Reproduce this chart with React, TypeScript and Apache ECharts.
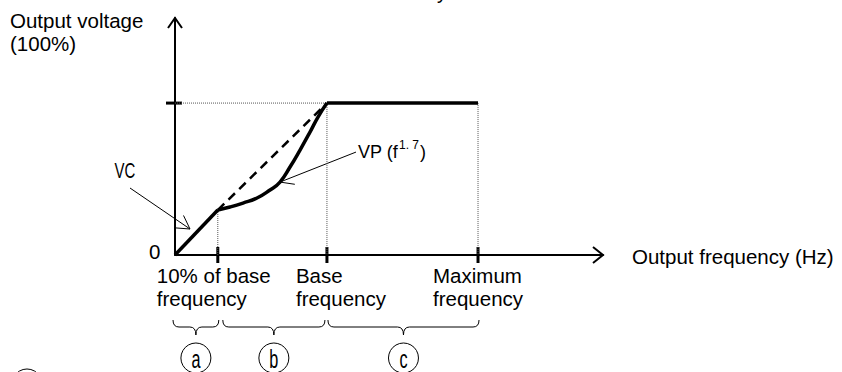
import React, { useEffect, useRef } from "react";
import * as echarts from "echarts";

// ---------- data (schematic units) ----------
const X_MAX = 100;
const Y_MAX = 156;
const xTickValues = [10, 35.5, 70.8];
const xTickLabels = ["10% of base\nfrequency", "Base\nfrequency", "Maximum\nfrequency"];
const xTickLabelOffsets = [-61, -31, -45];
const yTickValue = 100;
const vcSegment = [
  [0, 0],
  [10, 29.6],
];
const vpCurve = [
  [10, 29.6],
  [12.85, 31.6],
  [15.89, 34.2],
  [19.16, 37.5],
  [22.2, 42.8],
  [24.53, 48],
  [26.87, 57.9],
  [29.21, 69.1],
  [31.54, 80.9],
  [33.41, 90.8],
  [35.5, 100],
];
const flatSegment = [
  [35.5, 100],
  [70.8, 100],
];
const linearReference = [
  [10, 29.6],
  [35.5, 100],
];
const regionLetters = ["a", "b", "c"];
const regionBounds = [
  [0, 10],
  [10, 35.5],
  [35.5, 70.8],
];

const FONT = "'Liberation Sans', Arial, sans-serif";
const BLACK = "#000";

function solid(data: number[][], width: number, smooth = false) {
  return {
    type: "line",
    data,
    smooth,
    symbol: "none",
    clip: false,
    silent: true,
    lineStyle: { color: BLACK, width, cap: "butt", join: "miter" },
    z: 5,
  };
}

function dotted(data: number[][]) {
  return {
    type: "line",
    data,
    symbol: "none",
    clip: false,
    silent: true,
    lineStyle: { color: "#555", width: 1, type: [1, 1] },
    z: 2,
  };
}

function buildGraphic(chart: any) {
  const P = (x: number, y: number) => chart.convertToPixel({ gridIndex: 0 }, [x, y]) as number[];
  const [ox, oy] = P(0, 0);
  const top = P(0, Y_MAX)[1];
  const right = P(X_MAX, 0)[0];
  const els: any[] = [];
  const strokeStyle = (w: number) => ({ stroke: BLACK, lineWidth: w, fill: null });
  const line = (x1: number, y1: number, x2: number, y2: number, w = 1) => ({
    type: "line",
    silent: true,
    shape: { x1, y1, x2, y2 },
    style: strokeStyle(w),
  });
  const poly = (points: number[][], w = 1) => ({
    type: "polyline",
    silent: true,
    shape: { points },
    style: strokeStyle(w),
  });
  const bez = (x1: number, y1: number, cpx1: number, cpy1: number, x2: number, y2: number) => ({
    type: "bezierCurve",
    silent: true,
    shape: { x1, y1, cpx1, cpy1, x2, y2 },
    style: strokeStyle(1),
  });
  const text = (x: number, y: number, t: string, o: any = {}) => ({
    type: "text",
    silent: true,
    x,
    y,
    scaleX: o.scaleX ?? 1,
    style: {
      text: t,
      fontSize: o.fontSize ?? 20.5,
      fontFamily: FONT,
      fill: BLACK,
      align: o.align ?? "left",
      verticalAlign: "middle",
      lineHeight: o.lineHeight ?? 23,
    },
  });
  const arrow = (tail: number[], tip: number[], len: number, deg: number, w = 1) => {
    const a = Math.atan2(tail[1] - tip[1], tail[0] - tip[0]);
    const d = (deg * Math.PI) / 180;
    const w1 = [tip[0] + len * Math.cos(a + d), tip[1] + len * Math.sin(a + d)];
    const w2 = [tip[0] + len * Math.cos(a - d), tip[1] + len * Math.sin(a - d)];
    return [line(tail[0], tail[1], tip[0], tip[1], w), poly([w1, tip, w2], w)];
  };

  // axis arrowheads
  els.push(poly([[ox - 7, top + 10], [ox, top], [ox + 7, top + 10]], 2));
  els.push(poly([[right - 10, oy - 8], [right, oy], [right - 10, oy + 8]], 2));

  // y tick
  const yT = P(0, yTickValue)[1];
  els.push(line(ox - 9, yT, ox + 7, yT, 3));

  // x ticks + labels
  xTickValues.forEach((v, i) => {
    const px = P(v, 0)[0];
    els.push(line(px, oy - 8, px, oy + 8, 3));
    els.push(text(px + xTickLabelOffsets[i], oy + 31.5, xTickLabels[i]));
  });

  // axis texts
  els.push(text(10, 20, "Output voltage"));
  els.push(text(10, 43, "(100%)"));
  els.push(text(ox - 26, oy - 3.5, "0"));
  els.push(text(right + 29, oy + 1, "Output frequency (Hz)"));
  // clipped glyph at top edge
  els.push(text(437, -8, "y", { fontSize: 20 }));

  // VC annotation
  els.push(...arrow([ox - 45, oy - 67], [ox + 15, oy - 26], 15, 30));
  els.push(text(125, 170, "VC", { fontSize: 22, scaleX: 0.68, align: "center" }));

  // VP annotation
  const vpTip = P(vpCurve[5][0], vpCurve[5][1]);
  const vpTail = [vpTip[0] + 76, vpTip[1] - 30];
  els.push(...arrow(vpTail, vpTip, 15, 30));
  els.push({
    type: "text",
    silent: true,
    x: vpTail[0] + 2,
    y: vpTail[1] - 0.5,
    style: {
      text: "{m|VP (f}{s|1. 7}{m|)}",
      fontFamily: FONT,
      fill: BLACK,
      align: "left",
      verticalAlign: "middle",
      rich: {
        m: { fontSize: 18, lineHeight: 26, fontFamily: FONT, fill: BLACK },
        s: { fontSize: 12, lineHeight: 12, verticalAlign: "top", fontFamily: FONT, fill: BLACK, padding: [0, 1, 0, 1] },
      },
    },
  });

  // braces + circled letters
  const yTop = oy + 65;
  const yMid = oy + 72;
  const yTip = oy + 80;
  const adj = [
    [-2, 1],
    [5, -2],
    [1, 1],
  ];
  regionBounds.forEach((b, i) => {
    const x0 = P(b[0], 0)[0] + adj[i][0];
    const x1 = P(b[1], 0)[0] + adj[i][1];
    const xc = (x0 + x1) / 2;
    const r = 6;
    els.push(bez(x0, yTop, x0, yMid, x0 + r, yMid));
    els.push(line(x0 + r, yMid, xc - r, yMid));
    els.push(bez(xc - r, yMid, xc, yMid, xc, yTip));
    els.push(bez(xc, yTip, xc, yMid, xc + r, yMid));
    els.push(line(xc + r, yMid, x1 - r, yMid));
    els.push(bez(x1 - r, yMid, x1, yMid, x1, yTop));
    els.push({
      type: "circle",
      silent: true,
      shape: { cx: xc, cy: oy + 103, r: 15 },
      style: { stroke: BLACK, lineWidth: 1, fill: null },
    });
    els.push(text(xc, oy + 104.5, regionLetters[i], { fontSize: 25, scaleX: 0.65, align: "center" }));
  });
  // partially visible circle at bottom-left edge
  els.push({
    type: "circle",
    silent: true,
    shape: { cx: 27, cy: 384, r: 15 },
    style: { stroke: BLACK, lineWidth: 1, fill: null },
  });

  return els;
}

export default function App() {
  const ref = useRef<HTMLDivElement>(null);
  useEffect(() => {
    document.body.style.margin = "0";
    if (!ref.current) return;
    const chart = echarts.init(ref.current, null, { renderer: "svg" });
    chart.setOption({
      animation: false,
      backgroundColor: "#fff",
      grid: { left: 175, top: 18, width: 428, height: 237, containLabel: false },
      xAxis: {
        type: "value",
        min: 0,
        max: X_MAX,
        axisLine: { show: true, lineStyle: { color: BLACK, width: 2 } },
        axisTick: { show: false },
        axisLabel: { show: false },
        splitLine: { show: false },
      },
      yAxis: {
        type: "value",
        min: 0,
        max: Y_MAX,
        axisLine: { show: true, lineStyle: { color: BLACK, width: 2 } },
        axisTick: { show: false },
        axisLabel: { show: false },
        splitLine: { show: false },
      },
      series: [
        dotted([[0, yTickValue], [flatSegment[0][0], yTickValue]]),
        ...xTickValues.map((v, i) =>
          dotted([[v, i === 0 ? vcSegment[1][1] : yTickValue], [v, 0]])
        ),
        {
          type: "line",
          data: linearReference,
          symbol: "none",
          clip: false,
          silent: true,
          lineStyle: { color: BLACK, width: 2.5, type: [9, 6] },
          z: 3,
        },
        solid(vcSegment, 3.5),
        solid(vpCurve, 3.5, true),
        solid(flatSegment, 3.5),
      ],
    });
    chart.setOption({ graphic: { elements: buildGraphic(chart) } });
    return () => chart.dispose();
  }, []);
  return <div ref={ref} style={{ width: 842, height: 372 }} />;
}
